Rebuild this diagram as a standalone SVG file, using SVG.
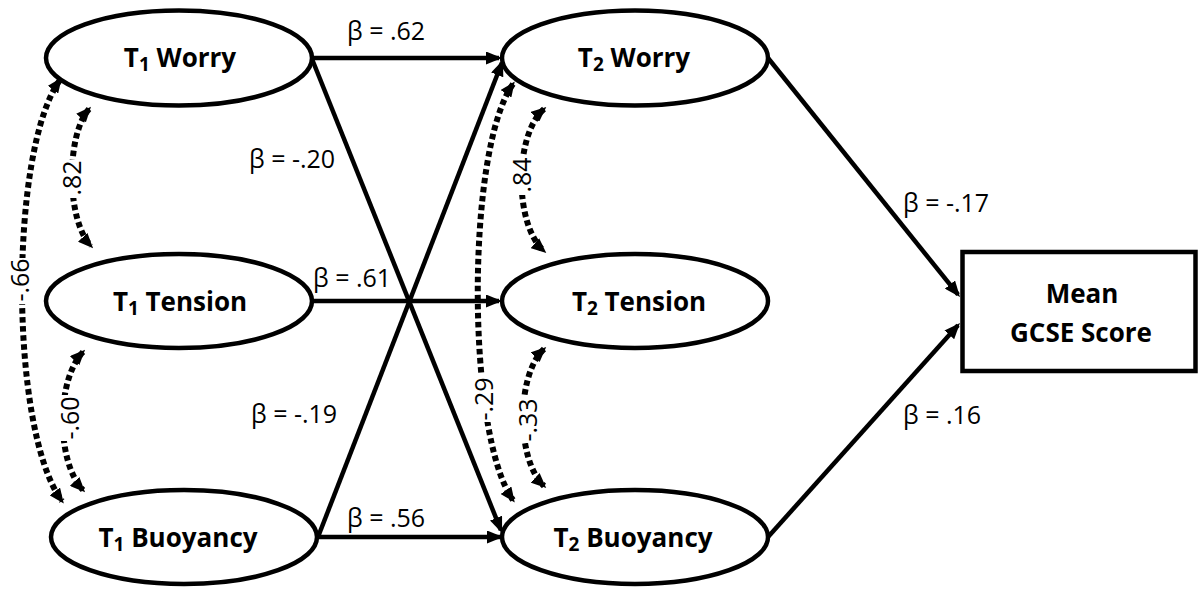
<svg xmlns="http://www.w3.org/2000/svg" width="1200" height="589" viewBox="0 0 1200 589">
<style>
.node{fill:#fff;stroke:#000;stroke-width:4.5}
.lbl{font-family:"Open Sans","Liberation Sans",sans-serif;font-weight:bold;font-size:26px;fill:#000;text-anchor:middle}
.beta{font-family:"Open Sans","Liberation Sans",sans-serif;font-size:25px;fill:#000}
.cor{font-family:"Open Sans","Liberation Sans",sans-serif;font-size:25px;fill:#000;text-anchor:middle}
.path{fill:none;stroke:#000;stroke-width:4.5;marker-end:url(#ah)}
.dot{fill:none;stroke:#000;stroke-width:6;stroke-dasharray:5.5 3.5;marker-start:url(#dh);marker-end:url(#dh)}
</style>
<defs>
<marker id="ah" viewBox="0 0 16 13" refX="13" refY="6.5" markerWidth="16" markerHeight="13" markerUnits="userSpaceOnUse" orient="auto">
<path d="M0,0 L16,6.5 L0,13 z" fill="#000"/>
</marker>
<marker id="dh" viewBox="0 0 15 13" refX="12" refY="6.5" markerWidth="15" markerHeight="13" markerUnits="userSpaceOnUse" orient="auto-start-reverse">
<path d="M0,0 L15,6.5 L0,13 z" fill="#000"/>
</marker>
</defs>
<rect width="1200" height="589" fill="#fff"/>
<g id="connectors">
<path class="path" d="M313,58 L499,58"/>
<path class="path" d="M313,301 L499,301"/>
<path class="path" d="M318,537 L500,537"/>
<path class="path" d="M312,59 L500.9,530.2"/>
<path class="path" d="M318,537 L501.9,62.8"/>
<path class="path" d="M768,58 L958.1,294.7"/>
<path class="path" d="M768,537 L958,325.2"/>
<path class="dot" d="M60,80 C9,150 9,430 62,501"/>
<path class="dot" d="M89,109 C66,135 66,220 91,246"/>
<path class="dot" d="M83,352 C56,380 56,462 83,490"/>
<path class="dot" d="M513,84 C466,150 466,434 513,500"/>
<path class="dot" d="M544,109 C514,135 514,225 544,251"/>
<path class="dot" d="M544,349 C516,375 516,460 544,486"/>
<g id="corr-labels">
<rect x="8" y="258" width="24" height="46" fill="#fff"/>
<text class="cor" transform="translate(20,280) rotate(-90)" y="9">-.66</text>
<rect x="60" y="160" width="24" height="38" fill="#fff"/>
<text class="cor" transform="translate(72,178) rotate(-90)" y="9">.82</text>
<rect x="58" y="395" width="24" height="46" fill="#fff"/>
<text class="cor" transform="translate(70,418) rotate(-90)" y="9">-.60</text>
<rect x="510" y="157" width="24" height="38" fill="#fff"/>
<text class="cor" transform="translate(522,175) rotate(-90)" y="9">.84</text>
<rect x="516" y="397" width="24" height="46" fill="#fff"/>
<text class="cor" transform="translate(528,420) rotate(-90)" y="9">-.33</text>
<rect x="472" y="374" width="24" height="48" fill="#fff"/>
<text class="cor" transform="translate(484,399) rotate(-90)" y="9">-.29</text>
</g>
<g id="beta-labels">
<text class="beta" x="347" y="40">β = .62</text>
<text class="beta" x="249" y="168">β = -.20</text>
<text class="beta" x="313" y="287">β = .61</text>
<text class="beta" x="251" y="423">β = -.19</text>
<text class="beta" x="347" y="527">β = .56</text>
<text class="beta" x="903" y="212">β = -.17</text>
<text class="beta" x="903" y="424">β = .16</text>
</g>
</g>
<g id="t1-worry"><ellipse class="node" cx="179" cy="58" rx="133" ry="47.5"/><text class="lbl" x="180" y="67">T<tspan font-size="19" dy="4">1</tspan><tspan dy="-4"> Worry</tspan></text></g>
<g id="t1-tension"><ellipse class="node" cx="179" cy="301" rx="133" ry="47"/><text class="lbl" x="180" y="311">T<tspan font-size="19" dy="4">1</tspan><tspan dy="-4"> Tension</tspan></text></g>
<g id="t1-buoyancy"><ellipse class="node" cx="184" cy="537" rx="133" ry="47"/><text class="lbl" x="178" y="547">T<tspan font-size="19" dy="4">1</tspan><tspan dy="-4"> Buoyancy</tspan></text></g>
<g id="t2-worry"><ellipse class="node" cx="635" cy="58" rx="133" ry="47.5"/><text class="lbl" x="634" y="67">T<tspan font-size="19" dy="4">2</tspan><tspan dy="-4"> Worry</tspan></text></g>
<g id="t2-tension"><ellipse class="node" cx="635" cy="301" rx="133" ry="47"/><text class="lbl" x="639" y="311">T<tspan font-size="19" dy="4">2</tspan><tspan dy="-4"> Tension</tspan></text></g>
<g id="t2-buoyancy"><ellipse class="node" cx="635" cy="537" rx="133" ry="47"/><text class="lbl" x="633" y="547">T<tspan font-size="19" dy="4">2</tspan><tspan dy="-4"> Buoyancy</tspan></text></g>
<g id="gcse"><rect class="node" x="962.5" y="252" width="233" height="119"/><text class="lbl" x="1082" y="303">Mean</text><text class="lbl" x="1081" y="342">GCSE Score</text></g>
</svg>
